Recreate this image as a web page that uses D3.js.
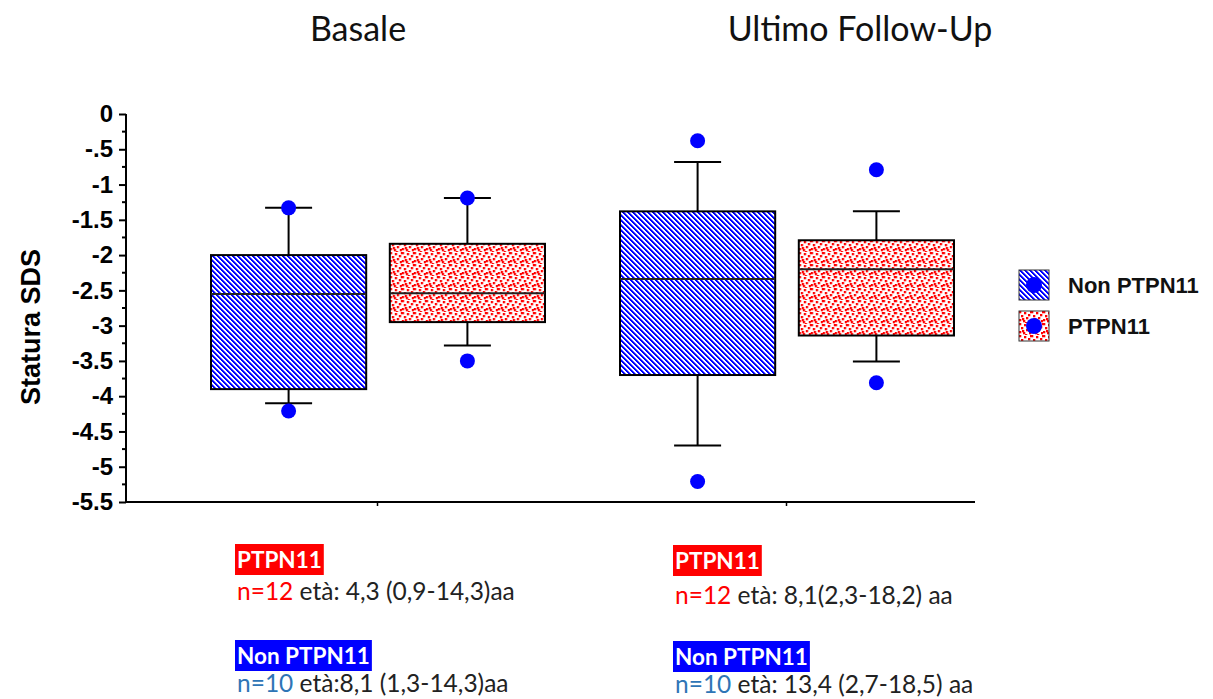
<!DOCTYPE html>
<html>
<head>
<meta charset="utf-8">
<script src="https://cdn.jsdelivr.net/npm/d3@7"></script>
<style>
  html, body { margin: 0; padding: 0; background: #fff; }
  svg { display: block; }
</style>
</head>
<body>
<svg id="chart" width="1213" height="699"></svg>
<script>
// Time points and groups
const timepoints = ["Basale", "Ultimo Follow-Up"];
const groups = ["Non PTPN11", "PTPN11"];

// Box statistics (Statura SDS), one entry per time point, in group order
const nonPtpn11Stats = [
  { q1: -3.90, median: -2.55, q3: -2.00, lo: -4.10, hi: -1.33 },
  { q1: -3.70, median: -2.34, q3: -1.38, lo: -4.70, hi: -0.68 }
];
const ptpn11Stats = [
  { q1: -2.95, median: -2.54, q3: -1.84, lo: -3.28, hi: -1.19 },
  { q1: -3.14, median: -2.20, q3: -1.79, lo: -3.51, hi: -1.38 }
];
// Extreme values (min, max) shown as dots
const nonPtpn11Extremes = [[-4.21, -1.33], [-5.21, -0.38]];
const ptpn11Extremes = [[-3.50, -1.19], [-3.81, -0.79]];

// Y-axis tick values and labels
const yTicks = [0, -0.5, -1, -1.5, -2, -2.5, -3, -3.5, -4, -4.5, -5, -5.5];
const yTickLabels = ["0", "-.5", "-1", "-1.5", "-2", "-2.5", "-3", "-3.5", "-4", "-4.5", "-5", "-5.5"];
const yMinorTicks = [-0.25, -0.75, -1.25, -1.75, -2.25, -2.75, -3.25, -3.75, -4.25, -4.75, -5.25];

// Cohort notes under each time point
const notes = [
  { ptpnN: "n=12", ptpnAge: " età: 4,3 (0,9-14,3)aa", nonN: "n=10", nonAge: " età:8,1 (1,3-14,3)aa" },
  { ptpnN: "n=12", ptpnAge: " età: 8,1(2,3-18,2) aa", nonN: "n=10", nonAge: " età: 13,4 (2,7-18,5) aa" }
];

const svg = d3.select("#chart");
const defs = svg.append("defs");
const sansBold = "'Liberation Sans', Arial, sans-serif";
const noteFont = "Lato, 'Open Sans', sans-serif";

// Fine diagonal blue hatch (top-left to bottom-right), 5px period
const hatch = defs.append("pattern")
  .attr("id", "hatchBlue").attr("patternUnits", "userSpaceOnUse")
  .attr("width", 5).attr("height", 5);
hatch.append("rect").attr("width", 5).attr("height", 5).attr("fill", "#ffffff");
const hatchCells = [];
[0, 1, 2, 3, 4].forEach(r => [0, 1].forEach(k => hatchCells.push([(r + k) % 5, r])));
hatch.selectAll("rect.s").data(hatchCells).enter().append("rect")
  .attr("class", "s").attr("x", c => c[0]).attr("y", c => c[1])
  .attr("width", 1).attr("height", 1).attr("fill", "#0000ff");
hatch.selectAll("rect.h").data([0, 1, 2, 3, 4]).enter().append("rect")
  .attr("class", "h").attr("x", r => (r + 2) % 5).attr("y", r => r)
  .attr("width", 1).attr("height", 1).attr("fill", "#6a6aff");

// Red speckle
const speck = defs.append("pattern")
  .attr("id", "speckRed").attr("patternUnits", "userSpaceOnUse")
  .attr("width", 12).attr("height", 12);
speck.append("rect").attr("width", 12).attr("height", 12).attr("fill", "#ffffff");
const speckDots = [[0,0],[5,1],[9,3],[2,4],[7,6],[0,8],[4,9],[10,9],[6,11],[11,0],[3,7]];
speck.selectAll("rect.d").data(speckDots).enter().append("rect")
  .attr("class", "d").attr("x", d => d[0]).attr("y", d => d[1])
  .attr("width", 2.3).attr("height", 2.3).attr("fill", "#ff0000");

const fills = { "Non PTPN11": "url(#hatchBlue)", "PTPN11": "url(#speckRed)" };

// Scales
const y = d3.scaleLinear().domain([-5.5, 0]).range([502, 114]);
const xGroup = d3.scalePoint().domain(timepoints).range([377, 786]);
const xSeries = d3.scaleBand().domain(groups).range([-166, 168]).paddingInner(0.132).paddingOuter(0);
const boxW = xSeries.bandwidth();
const capW = 47;

// Y axis
const yAxis = d3.axisLeft(y).tickValues(yTicks).tickFormat((d, i) => yTickLabels[i])
  .tickSize(7).tickPadding(6);
const gy = svg.append("g").attr("transform", "translate(126,0)").call(yAxis);
gy.select(".domain").attr("stroke", "#000").attr("stroke-width", 2).attr("d", `M0,${y(0)}V${y(-5.5)}`);
gy.selectAll(".tick line").attr("stroke", "#000").attr("stroke-width", 2);
gy.selectAll(".tick text").attr("font-family", sansBold)
  .attr("font-weight", "bold").attr("font-size", 24).attr("fill", "#000");
gy.selectAll("line.minor").data(yMinorTicks).enter().append("line")
  .attr("class", "minor").attr("x1", -4).attr("x2", 0)
  .attr("y1", d => y(d)).attr("y2", d => y(d))
  .attr("stroke", "#000").attr("stroke-width", 2);

// X axis
const xAxis = d3.axisBottom(xGroup).tickSize(4).tickFormat("");
const gx = svg.append("g").attr("transform", `translate(0,${y(-5.5)})`).call(xAxis);
gx.select(".domain").attr("stroke", "#000").attr("stroke-width", 2).attr("d", "M125,0H975");
gx.selectAll(".tick line").attr("stroke", "#000").attr("stroke-width", 1.5);

// Y title
svg.append("text")
  .attr("transform", `translate(40,${(y(0) + y(-5.5)) / 2 + 19}) rotate(-90)`)
  .attr("text-anchor", "middle")
  .attr("font-family", sansBold)
  .attr("font-weight", "bold").attr("font-size", 27)
  .text("Statura SDS");

// Time point titles
const titleX = [358, 860];
svg.selectAll("text.tp").data(timepoints).enter().append("text")
  .attr("class", "tp")
  .attr("x", (d, i) => titleX[i]).attr("y", 41)
  .attr("text-anchor", "middle")
  .attr("font-family", noteFont)
  .attr("font-size", 34).attr("fill", "#111")
  .text(d => d);

// Boxes
const boxData = [];
timepoints.forEach((tp, i) => {
  boxData.push({ tp, group: "Non PTPN11", s: nonPtpn11Stats[i], ext: nonPtpn11Extremes[i] });
  boxData.push({ tp, group: "PTPN11", s: ptpn11Stats[i], ext: ptpn11Extremes[i] });
});

const gb = svg.selectAll("g.box").data(boxData).enter().append("g")
  .attr("class", "box")
  .attr("transform", d => `translate(${xGroup(d.tp) + xSeries(d.group)},0)`);

// whiskers
gb.append("line").attr("x1", boxW / 2).attr("x2", boxW / 2)
  .attr("y1", d => y(d.s.q3)).attr("y2", d => y(d.s.hi))
  .attr("stroke", "#000").attr("stroke-width", 2);
gb.append("line").attr("x1", boxW / 2).attr("x2", boxW / 2)
  .attr("y1", d => y(d.s.q1)).attr("y2", d => y(d.s.lo))
  .attr("stroke", "#000").attr("stroke-width", 2);
gb.append("line").attr("x1", boxW / 2 - capW / 2).attr("x2", boxW / 2 + capW / 2)
  .attr("y1", d => y(d.s.hi)).attr("y2", d => y(d.s.hi))
  .attr("stroke", "#000").attr("stroke-width", 2);
gb.append("line").attr("x1", boxW / 2 - capW / 2).attr("x2", boxW / 2 + capW / 2)
  .attr("y1", d => y(d.s.lo)).attr("y2", d => y(d.s.lo))
  .attr("stroke", "#000").attr("stroke-width", 2);
// box body
gb.append("rect").attr("x", 0).attr("width", boxW)
  .attr("y", d => y(d.s.q3)).attr("height", d => y(d.s.q1) - y(d.s.q3))
  .attr("fill", d => fills[d.group]).attr("stroke", "#000").attr("stroke-width", 2);
// median
gb.append("line").attr("x1", 0).attr("x2", boxW)
  .attr("y1", d => y(d.s.median)).attr("y2", d => y(d.s.median))
  .attr("stroke", "#222").attr("stroke-width", 2);
// extremes
gb.selectAll("circle").data(d => d.ext).enter().append("circle")
  .attr("cx", boxW / 2).attr("cy", v => y(v)).attr("r", 7.5)
  .attr("fill", "#0000ff");

// Legend
const legY = [285, 326];
const lg = svg.selectAll("g.leg").data(groups).enter().append("g")
  .attr("class", "leg")
  .attr("transform", (d, i) => `translate(1019,${legY[i] - 15})`);
lg.append("rect").attr("width", 30).attr("height", 30)
  .attr("fill", d => fills[d]).attr("stroke", "#333").attr("stroke-width", 1);
lg.append("circle").attr("cx", 15).attr("cy", 15).attr("r", 8).attr("fill", "#0000ff");
lg.append("text").attr("x", 49).attr("y", 23)
  .attr("font-family", sansBold)
  .attr("font-weight", "bold").attr("font-size", 22).attr("fill", "#111")
  .text(d => d);

// Cohort notes
const noteX = [237, 675];
notes.forEach((n, i) => {
  const x0 = noteX[i];
  const rows = [
    { label: "PTPN11", bg: "#ff0000", nTxt: n.ptpnN, nCol: "#ff0000", age: n.ptpnAge, ly: i === 0 ? 560 : 561, ty: i === 0 ? 600 : 604 },
    { label: "Non PTPN11", bg: "#0000ff", nTxt: n.nonN, nCol: "#2e75b6", age: n.nonAge, ly: i === 0 ? 656 : 657, ty: i === 0 ? 692 : 693 }
  ];
  rows.forEach(r => {
    const t = svg.append("text").attr("x", x0).attr("y", r.ly + 8)
      .attr("font-family", noteFont)
      .attr("font-weight", "bold").attr("font-size", 22.5).attr("fill", "#fff")
      .text(r.label);
    const bb = t.node().getBBox();
    svg.insert("rect", () => t.node())
      .attr("x", bb.x - 2).attr("y", r.ly - 16).attr("width", bb.width + 4).attr("height", 31)
      .attr("fill", r.bg);
    const t2 = svg.append("text").attr("x", x0).attr("y", r.ty)
      .attr("font-family", noteFont)
      .attr("font-size", 24.5).attr("fill", "#222");
    t2.append("tspan").attr("fill", r.nCol).text(r.nTxt);
    t2.append("tspan").text(r.age);
  });
});
</script>
</body>
</html>
